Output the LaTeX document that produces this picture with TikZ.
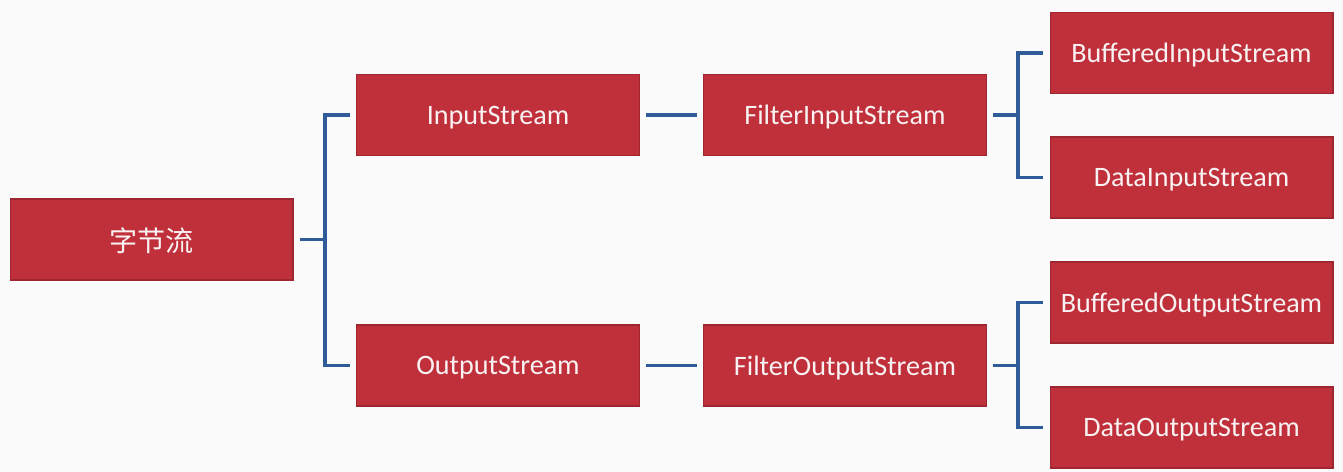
\documentclass[tikz,border=0pt]{standalone}
\usepackage{fontspec}
\setmainfont{Carlito}
\newfontfamily\cjk{Noto Sans CJK SC}
\definecolor{boxred}{HTML}{C0303B}
\definecolor{boxedge}{HTML}{9E2630}
\definecolor{linkblue}{HTML}{2F5C99}
\definecolor{bg}{HTML}{FAFAFA}
\definecolor{txt}{HTML}{F8F2F2}
\tikzset{
  box/.style={draw=boxedge, line width=0.6pt, fill=boxred, text=txt, minimum width=5.66cm, minimum height=1.62cm, inner sep=0pt, text depth=0pt, font=\fontsize{16}{18}\selectfont},
  conn/.style={draw=linkblue, line width=2.2pt}
}
\begin{document}
\begin{tikzpicture}[x=0.02cm,y=-0.02cm]
\fill[bg] (0,0) rectangle (1343,472);
\useasboundingbox (0,0) rectangle (1343,472);
\node[box] (root) at (151.5,239.5) {\cjk 字节流};
\node[box] (in) at (498,115) {InputStream};
\node[box] (out) at (498,365.5) {OutputStream};
\node[box] (fin) at (845,115) {FilterInputStream};
\node[box] (fout) at (845,365.5) {FilterOutputStream};
\node[box] (bin) at (1191.5,53) {BufferedInputStream};
\node[box] (din) at (1191.5,177.5) {DataInputStream};
\node[box] (bout) at (1191.5,302.5) {BufferedOutputStream};
\node[box] (dout) at (1191.5,427.5) {DataOutputStream};
\coordinate (j1) at (325,239.5);
\coordinate (j2) at (1018,115);
\coordinate (j3) at (1018,365.5);
\draw[conn] ([xshift=0.12cm]root.east) -- (j1);
\draw[conn] ([xshift=-0.12cm]in.west) -| (j1) |- ([xshift=-0.12cm]out.west);
\draw[conn] ([xshift=0.12cm]in.east) -- ([xshift=-0.12cm]fin.west);
\draw[conn] ([xshift=0.12cm]out.east) -- ([xshift=-0.12cm]fout.west);
\draw[conn] ([xshift=0.12cm]fin.east) -- (j2);
\draw[conn] ([xshift=-0.14cm]bin.west) -| (j2) |- ([xshift=-0.14cm]din.west);
\draw[conn] ([xshift=0.12cm]fout.east) -- (j3);
\draw[conn] ([xshift=-0.14cm]bout.west) -| (j3) |- ([xshift=-0.14cm]dout.west);
\end{tikzpicture}
\end{document}
